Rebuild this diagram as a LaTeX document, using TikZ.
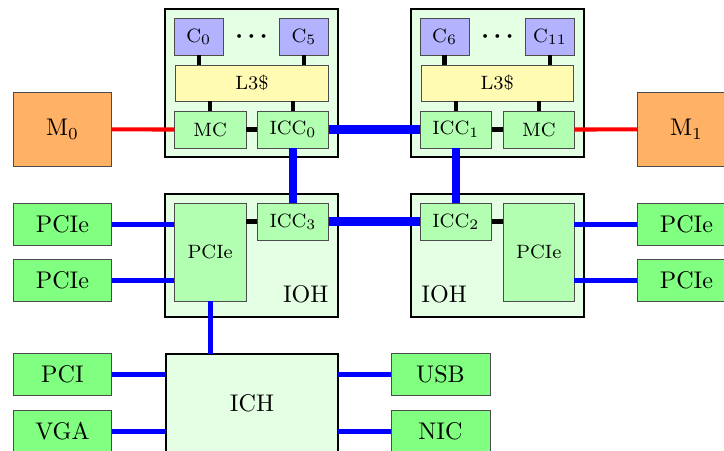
\documentclass[tikz,border=0pt]{standalone}
\begin{document}
\begin{tikzpicture}[x=0.415pt,y=-0.415pt,
  sz/.style 2 args={minimum width=#1*0.415pt, minimum height=#2*0.415pt},
  outerbox/.style={draw=black, thick, fill=green!10, inner sep=0pt, outer sep=0pt},
  innerbox/.style={draw=black!70, inner sep=0pt, outer sep=0pt, font=\footnotesize},
  corebox/.style={innerbox, fill=blue!30},
  cachebox/.style={innerbox, fill=yellow!30},
  ctrlbox/.style={innerbox, fill=green!30},
  devbox/.style={draw=black!70, fill=green!50, inner sep=0pt, outer sep=0pt},
  membox/.style={draw=black!70, fill=orange!60, inner sep=0pt, outer sep=0pt},
  lnk/.style={line width=1.8pt, black},
  memlnk/.style={line width=1.7pt, red},
  qpi/.style={line width=3.6pt, blue},
  iolnk/.style={line width=2pt, blue}]
\clip (0,0) rectangle (724,450);

% outer boxes
\node[outerbox, sz={173}{148}] (sockL) at (251.5,83.3) {};
\node[outerbox, sz={173}{148}] (sockR) at (497.5,83.3) {};
\node[outerbox, sz={173}{122.7}] (iohL) at (251.5,255.35) {};
\node[outerbox, sz={173}{122.7}] (iohR) at (497.5,255.35) {};
\node[outerbox, sz={172.6}{98}] (ich) at (252,403) {ICH};

% memory
\node[membox, sz={98.4}{73.3}] (m0) at (62.5,129.35) {M$_0$};
\node[membox, sz={98.4}{73.3}] (m1) at (686.5,129.35) {M$_1$};

% left socket
\node[corebox, sz={49}{36.7}] (c0) at (198.8,36.65) {C$_0$};
\node[corebox, sz={49.4}{36.7}] (c5) at (304,36.65) {C$_5$};
\node[inner sep=0pt, font=\boldmath] (dotsL) at (251.5,36.5) {$\cdots$};
\node[cachebox, sz={152.6}{36.3}] (l3L) at (252,83.15) {L3\$};
\node[ctrlbox, sz={71.7}{37}] (mcL) at (210.15,129.5) {MC};
\node[ctrlbox, sz={71.4}{37}] (icc0) at (293,129.5) {ICC$_0$};

% right socket
\node[corebox, sz={49.3}{36.7}] (c6) at (444.65,36.65) {C$_6$};
\node[corebox, sz={48.6}{36.7}] (c11) at (550,36.65) {C$_{11}$};
\node[inner sep=0pt, font=\boldmath] (dotsR) at (497.5,36.5) {$\cdots$};
\node[cachebox, sz={152.3}{36.3}] (l3R) at (497.15,83.15) {L3\$};
\node[ctrlbox, sz={71.7}{37}] (icc1) at (455.85,129.5) {ICC$_1$};
\node[ctrlbox, sz={71}{37}] (mcR) at (538.8,129.5) {MC};

% left IOH
\node[ctrlbox, sz={71.7}{98}] (pcieL) at (210.15,252.3) {PCIe};
\node[ctrlbox, sz={71.4}{36.7}] (icc3) at (293,221.65) {ICC$_3$};
\node[anchor=base east, inner sep=0pt] (iohLlab) at (329,302) {IOH};

% right IOH
\node[ctrlbox, sz={71.7}{36.7}] (icc2) at (455.85,221.65) {ICC$_2$};
\node[ctrlbox, sz={71}{98}] (pcieR) at (538.8,252.3) {PCIe};
\node[anchor=base west, inner sep=0pt] (iohRlab) at (421,302) {IOH};

% devices
\node[devbox, sz={98.4}{41.7}] (pl1) at (62.5,224.15) {PCIe};
\node[devbox, sz={98.4}{42}] (pl2) at (62.5,280.3) {PCIe};
\node[devbox, sz={98.4}{41.7}] (pr1) at (686.5,224.15) {PCIe};
\node[devbox, sz={98.4}{42}] (pr2) at (686.5,280.3) {PCIe};
\node[devbox, sz={98.4}{41.7}] (pci) at (62.5,374.15) {PCI};
\node[devbox, sz={98.4}{41.7}] (vga) at (62.5,431.55) {VGA};
\node[devbox, sz={99}{41.7}] (usb) at (440.5,374.15) {USB};
\node[devbox, sz={99}{41.7}] (nic) at (440.5,431.55) {NIC};

% black on-chip links
\draw[lnk] (c0.south) -- (c0.south |- l3L.north);
\draw[lnk] (c5.south) -- (c5.south |- l3L.north);
\draw[lnk] (l3L.south -| mcL.north) -- (mcL.north);
\draw[lnk] (l3L.south -| icc0.north) -- (icc0.north);
\draw[lnk] (mcL.east) -- (icc0.west);
\draw[lnk] (c6.south) -- (c6.south |- l3R.north);
\draw[lnk] (c11.south) -- (c11.south |- l3R.north);
\draw[lnk] (l3R.south -| icc1.north) -- (icc1.north);
\draw[lnk] (l3R.south -| mcR.north) -- (mcR.north);
\draw[lnk] (icc1.east) -- (mcR.west);
\draw[lnk] (icc3.west) -- (icc3.west -| pcieL.east);
\draw[lnk] (icc2.east) -- (icc2.east -| pcieR.west);

% memory links
\draw[memlnk] (m0.east) -- (mcL.west);
\draw[memlnk] (mcR.east) -- (m1.west);

% interconnect links
\draw[qpi] (icc0.east) -- (icc1.west);
\draw[qpi] (icc0.south) -- (icc3.north);
\draw[qpi] (icc1.south) -- (icc2.north);
\draw[qpi] (icc3.east) -- (icc2.west);

% io links
\draw[iolnk] (pl1.east) -- (pl1.east -| pcieL.west);
\draw[iolnk] (pl2.east) -- (pl2.east -| pcieL.west);
\draw[iolnk] (pr1.west) -- (pr1.west -| pcieR.east);
\draw[iolnk] (pr2.west) -- (pr2.west -| pcieR.east);
\draw[iolnk] (pcieL.south) -- (pcieL.south |- ich.north);
\draw[iolnk] (pci.east) -- (pci.east -| ich.west);
\draw[iolnk] (vga.east) -- (vga.east -| ich.west);
\draw[iolnk] (usb.west) -- (usb.west -| ich.east);
\draw[iolnk] (nic.west) -- (nic.west -| ich.east);
\end{tikzpicture}
\end{document}
